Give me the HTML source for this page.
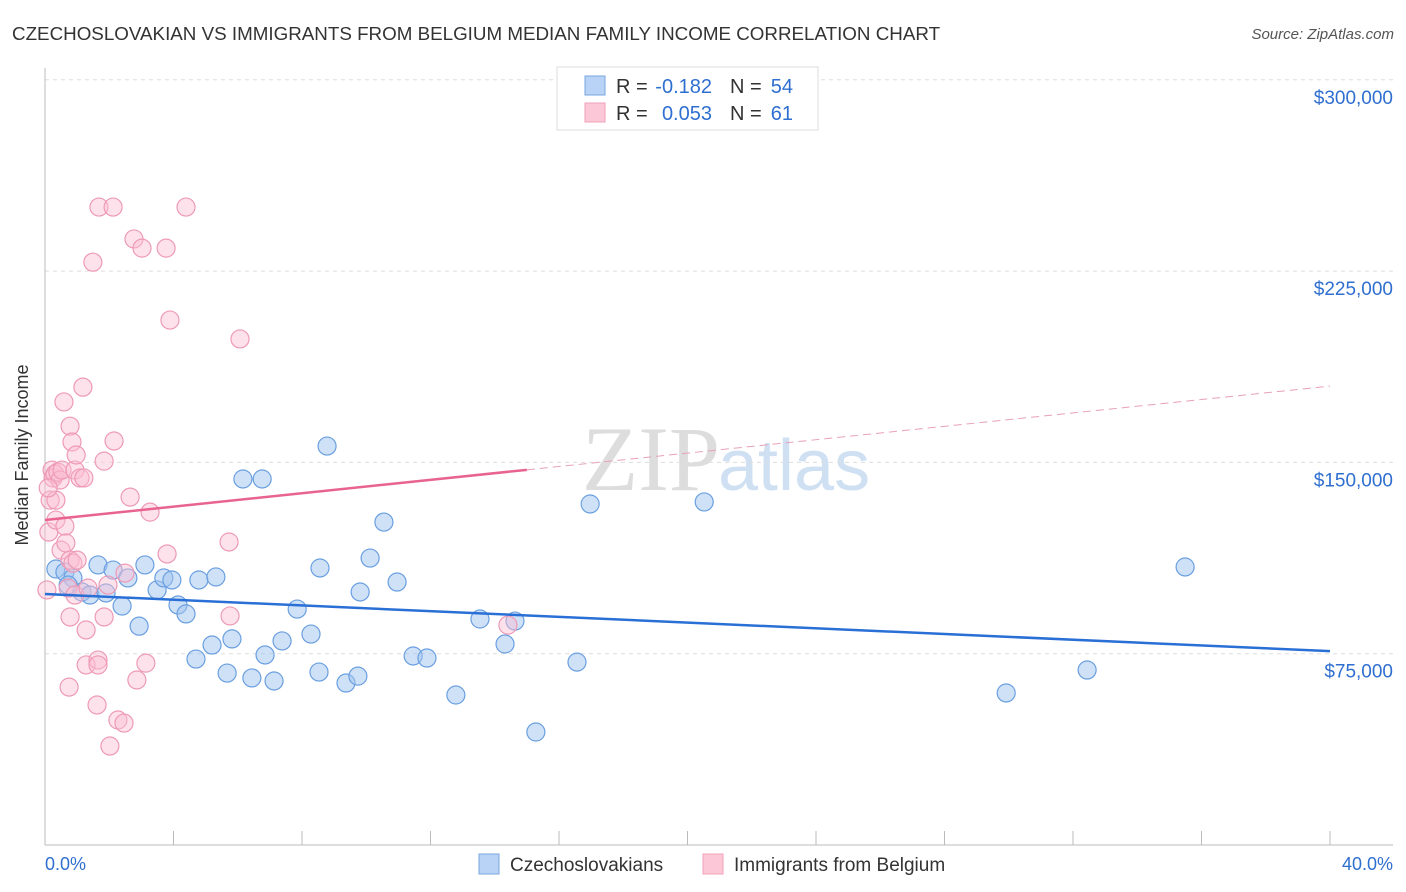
<!DOCTYPE html>
<html><head><meta charset="utf-8"><style>
body{margin:0;background:#fff;font-family:"Liberation Sans",sans-serif;}
svg{display:block}
</style></head><body>
<svg id="chart" width="1406" height="892" xmlns="http://www.w3.org/2000/svg">
<text x="12" y="40" font-size="18.8" fill="#333">CZECHOSLOVAKIAN VS IMMIGRANTS FROM BELGIUM MEDIAN FAMILY INCOME CORRELATION CHART</text>
<text x="1394" y="39" font-size="15" fill="#555" font-style="italic" text-anchor="end">Source: ZipAtlas.com</text>
<text x="720" y="490" font-size="92" font-family="Liberation Serif,serif" fill="#ddd" text-anchor="end">ZIP</text>
<text x="718" y="490" font-size="72" fill="#cfe0f3">atlas</text>
<g id="grid"></g>
<g id="axes"></g>
<g id="marks"></g>
<g>
<rect x="557" y="67" width="261" height="63" fill="#fff" stroke="#ddd"/>
<rect x="585" y="76" width="20" height="19" fill="#b8d3f5" stroke="#7aa7e0"/>
<rect x="585" y="103" width="20" height="19" fill="#fcc8d8" stroke="#f0a0b8"/>
<text x="616" y="93" font-size="20" fill="#333">R =</text>
<text x="712" y="93" font-size="20" fill="#2f6fd0" text-anchor="end">-0.182</text>
<text x="730" y="93" font-size="20" fill="#333">N =</text>
<text x="793" y="93" font-size="20" fill="#2f6fd0" text-anchor="end">54</text>
<text x="616" y="120" font-size="20" fill="#333">R =</text>
<text x="712" y="120" font-size="20" fill="#2f6fd0" text-anchor="end">0.053</text>
<text x="730" y="120" font-size="20" fill="#333">N =</text>
<text x="793" y="120" font-size="20" fill="#2f6fd0" text-anchor="end">61</text>
</g>
<text x="28" y="455" font-size="18" fill="#333" text-anchor="middle" transform="rotate(-90 28 455)">Median Family Income</text>
<text x="45" y="870" font-size="18" fill="#2f6fd0">0.0%</text>
<text x="1393" y="870" font-size="18" fill="#2f6fd0" text-anchor="end">40.0%</text>
<g>
<rect x="479" y="854" width="20" height="20" fill="#b8d3f5" stroke="#7aa7e0"/>
<text x="510" y="871" font-size="19" fill="#333">Czechoslovakians</text>
<rect x="703" y="854" width="20" height="20" fill="#fcc8d8" stroke="#f0a0b8"/>
<text x="734" y="871" font-size="19" fill="#333">Immigrants from Belgium</text>
</g>
</svg>
<script>
const yTicks=[75000,150000,225000,300000];
const yTickLabels=["$75,000","$150,000","$225,000","$300,000"];
const xTicks=[0,4,8,12,16,20,24,28,32,36,40];
const blueX=[0.34,0.62,0.87,0.72,1.15,1.40,1.65,1.90,2.12,2.40,2.58,2.93,3.11,3.49,3.70,3.95,4.14,4.39,4.79,4.70,5.20,5.32,5.67,5.82,6.16,6.44,6.76,6.85,7.13,7.38,7.85,8.28,8.53,8.56,8.78,9.37,9.74,9.81,10.12,10.55,10.96,11.46,11.89,12.79,13.54,14.32,14.63,15.28,16.56,16.97,20.52,29.92,32.44,35.49];
const blueY=[108.2,107.0,104.7,101.9,99.2,98.0,109.8,98.8,107.8,93.7,104.7,85.8,109.8,100.0,104.7,103.9,94.1,90.6,103.9,72.9,78.4,105.1,67.4,80.8,143.5,65.5,143.5,74.5,64.3,80.0,92.5,82.7,67.8,108.6,156.4,63.5,66.2,99.2,112.5,126.6,103.1,74.1,73.3,58.8,88.6,78.8,87.8,44.3,71.7,133.7,134.5,59.6,68.6,109.0];
const pinkX=[0.16,0.12,0.06,0.22,0.25,0.31,0.40,0.47,0.53,0.34,0.50,0.62,0.65,0.72,0.78,0.78,0.84,0.87,0.93,0.97,0.93,1.09,1.18,1.21,0.59,0.75,0.78,1.00,1.28,1.28,1.34,1.49,1.62,1.65,1.65,1.68,1.84,1.84,1.96,2.12,2.15,2.02,2.27,2.46,2.49,2.65,2.77,2.86,3.02,3.14,3.27,3.77,3.80,3.89,4.39,5.73,5.76,6.07,14.41,0.34,0.10];
const pinkY=[135.2,122.7,100.0,147.0,143.9,145.4,146.2,143.1,147.0,127.4,115.6,125.0,118.4,100.7,164.2,111.7,158.0,110.5,147.0,152.9,98.0,143.9,179.5,143.9,173.7,61.9,89.4,111.7,70.6,84.3,100.7,228.5,54.9,72.5,70.6,250.1,89.4,150.5,101.9,250.1,158.4,38.8,49.0,47.8,106.6,136.4,237.6,64.7,234.0,71.3,130.5,234.0,114.1,205.8,250.1,118.8,89.8,198.4,86.2,135.2,140.0];
const blueTrend=[98.4,76.0];
const pinkTrend=[127.4,179.9];
const pinkSolidEnd=15;
const X=p=>45+p/40*1285;
const Y=v=>845-v/75000*191.3;
const ns="http://www.w3.org/2000/svg";
function mk(t,a,parent){const e=document.createElementNS(ns,t);for(const k in a)e.setAttribute(k,a[k]);parent.appendChild(e);return e;}
const grid=document.getElementById('grid'),axes=document.getElementById('axes'),marks=document.getElementById('marks');
yTicks.forEach((v,i)=>{
 const l=mk('line',{x1:45,x2:1393,y1:Y(v),y2:Y(v),stroke:'#ddd','stroke-dasharray':'4 4'},grid);
 
 
 const t=mk('text',{x:1393,y:Y(v)+24,'font-size':19,fill:'#2f6fd0','text-anchor':'end'},axes);
 t.textContent=yTickLabels[i];
 
 
});
const yl=mk('line',{x1:45,x2:45,y1:68,y2:845,stroke:'#bbb'},axes);


const xl=mk('line',{x1:45,x2:1393,y1:845,y2:845,stroke:'#bbb'},axes);


xTicks.forEach(p=>{
 const t=mk('line',{x1:X(p),x2:X(p),y1:831,y2:845,stroke:'#bbb'},axes);
 
 
});
blueX.forEach((x,i)=>{
 const c=mk('circle',{cx:X(x),cy:Y(blueY[i]*1000),r:9,fill:'rgba(160,196,240,0.5)',stroke:'#6a9fe0','stroke-width':1.2},marks);
 
 
});
pinkX.forEach((x,i)=>{
 const c=mk('circle',{cx:X(x),cy:Y(pinkY[i]*1000),r:9,fill:'rgba(250,190,210,0.45)',stroke:'#ee9ab5','stroke-width':1.2},marks);
 
 
});
const bt=mk('line',{x1:X(0),y1:Y(blueTrend[0]*1000),x2:X(40),y2:Y(blueTrend[1]*1000),stroke:'#2a6fd6','stroke-width':2.5},marks);


const pv=p=>pinkTrend[0]+(pinkTrend[1]-pinkTrend[0])*p/40;
const ps=mk('line',{x1:X(0),y1:Y(pv(0)*1000),x2:X(pinkSolidEnd),y2:Y(pv(pinkSolidEnd)*1000),stroke:'#e8638f','stroke-width':2.5},marks);


const pd=mk('line',{x1:X(pinkSolidEnd),y1:Y(pv(pinkSolidEnd)*1000),x2:X(40),y2:Y(pv(40)*1000),stroke:'#e8a0b8','stroke-width':1,'stroke-dasharray':'8 5'},marks);


</script>
</body></html>
